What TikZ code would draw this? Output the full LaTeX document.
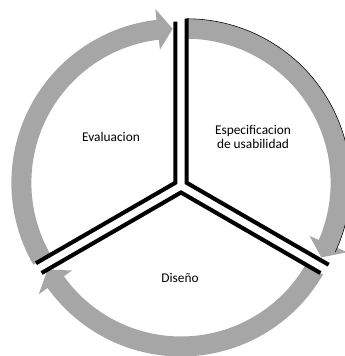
\documentclass[tikz,border=0pt]{standalone}
\usepackage{fontspec}
\setmainfont{Carlito}
\usetikzlibrary{calc}
\definecolor{ringgray}{RGB}{166,166,166}

% gray ring arrow: centre, start angle, end angle (clockwise)
\newcommand{\ringarrow}[3]{%
  \fill[ring] (#1) ++(#2:164) arc[start angle=#2, end angle=#3+5.6, radius=164]
    -- ($(#1)+(#3+5.6:175)$) -- ($(#1)+(#3:154)$) -- ($(#1)+(#3+5.6:134)$)
    -- ($(#1)+(#3+5.6:144)$) arc[start angle=#3+5.6, end angle=#2, radius=144] -- cycle;}

\begin{document}
\begin{tikzpicture}[x=0.025cm, y=0.025cm,
    ring/.style={fill=ringgray},
    edge/.style={draw=black, line width=2.9pt, line join=miter},
    label/.style={font=\fontsize{9.5}{9.5}\selectfont, align=center}]
    \useasboundingbox (0,0) rectangle (344,356);

    \coordinate (centre) at (181,170);
    \coordinate (cspec) at ($(centre)+(30:6.5)$);
    \coordinate (cdis) at ($(centre)+(270:6.5)$);
    \coordinate (ceval) at ($(centre)+(150:6.5)$);

    % arrows round the cycle
    \ringarrow{cspec}{90}{-29}
    \ringarrow{cdis}{-30}{-150}
    \ringarrow{ceval}{210}{91}

    % segments
    \draw[edge] ($(cspec)+(90:164)$) -- (cspec) -- ($(cspec)+(-30:164)$);
    \draw[thin] (cspec) ++(90:164) arc[start angle=90, end angle=-25, radius=164];
    \draw[edge] ($(cdis)+(-30:161)$) -- (cdis) -- ($(cdis)+(210:161)$);
    \draw[edge] ($(ceval)+(210:161)$) -- (ceval) -- ($(ceval)+(90:161)$);

    \node[label] (evaluacion) at (111,219) {Evaluacion};
    \node[label] (especificacion) at (253,219) {Especificacion\\de usabilidad};
    \node[label] (diseno) at (180,78) {Diseño};
\end{tikzpicture}
\end{document}
